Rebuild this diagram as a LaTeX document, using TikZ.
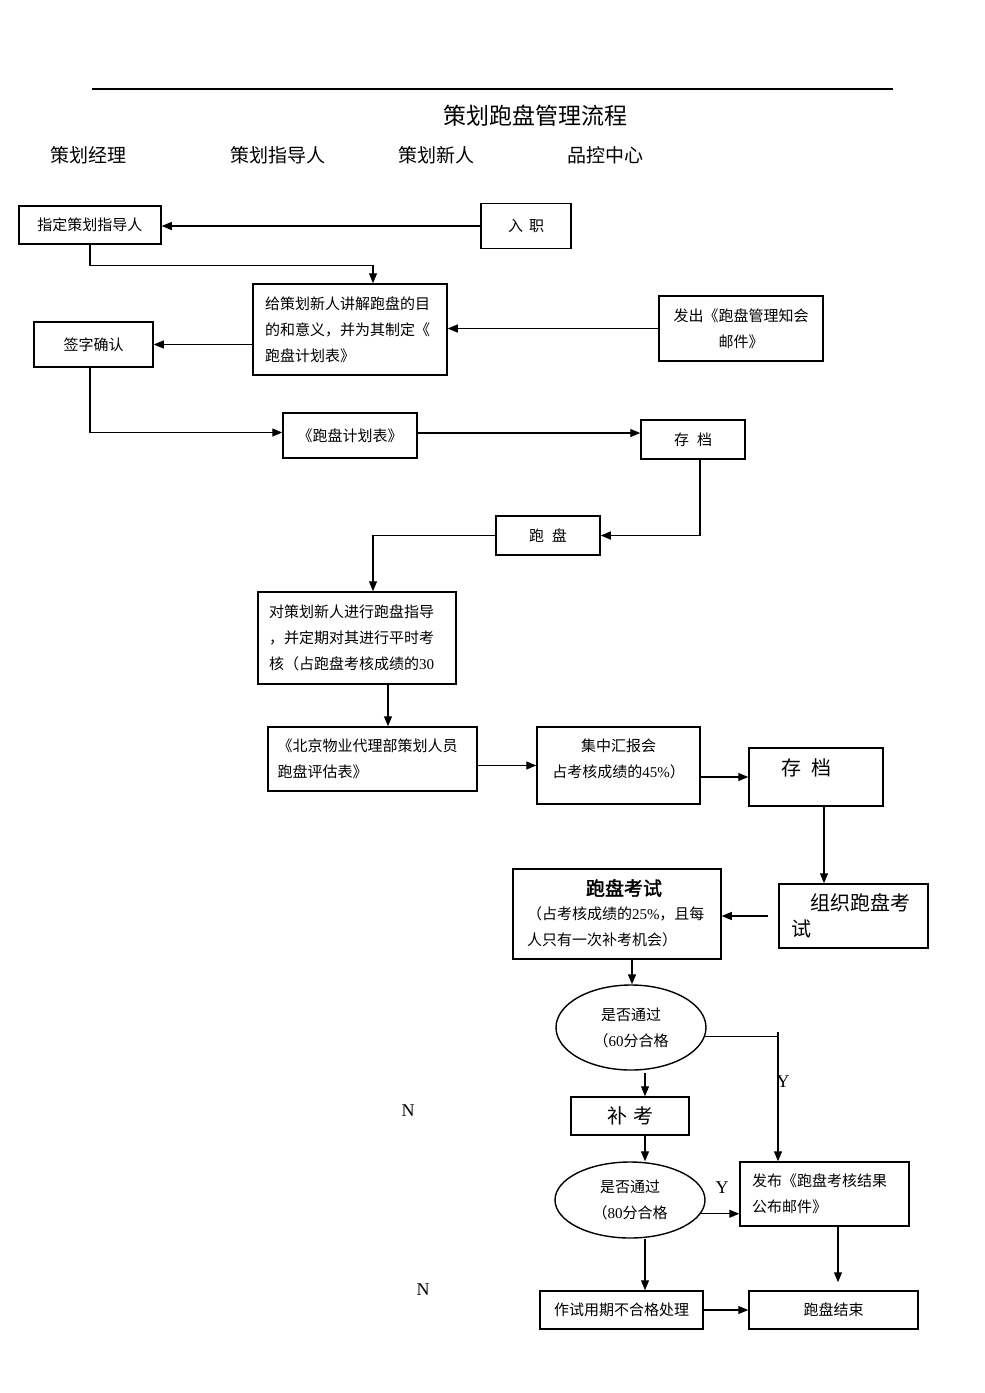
\documentclass[tikz,border=0pt]{standalone}
\usepackage{fontspec}
\setmainfont{Noto Sans CJK SC}
\newfontfamily\lat{Liberation Serif}
\newfontfamily\cjkbold[FakeBold=2]{Noto Sans CJK SC}
\usetikzlibrary{arrows.meta,shapes.geometric}
\begin{document}
\begin{tikzpicture}[x=1pt,y=-1pt,
  box/.style={draw, line width=1.5pt, rectangle, inner sep=0pt},
  body/.style={font=\fontsize{15}{26}\selectfont, inner sep=0pt},
  big/.style={font=\fontsize{20}{26}\selectfont, inner sep=0pt},
  hdr/.style={font=\fontsize{19}{22}\selectfont, inner sep=0pt},
  oval/.style={draw, ellipse, line width=1.4pt, inner sep=0pt, align=center, font=\fontsize{15}{26}\selectfont},
  arr/.style={line width=1.2pt, -{Triangle[length=10pt,width=8pt]}},
  ln/.style={line width=1.2pt},
  lab/.style={font=\lat\fontsize{18}{20}\selectfont, inner sep=0pt}]
\path[use as bounding box] (0,0) rectangle (985,1393);

% header
\draw[line width=1.2pt] (92,89) -- (893,89);
\node[font=\fontsize{23}{26}\selectfont, inner sep=0pt] (title) at (535,116) {策划跑盘管理流程};
\node[hdr] (h1) at (88.5,155) {策划经理};
\node[hdr] (h2) at (277.5,155) {策划指导人};
\node[hdr] (h3) at (436,155) {策划新人};
\node[hdr] (h4) at (605,155) {品控中心};

% boxes
\node[box, body, minimum width=142, minimum height=38] (b1) at (90,225) {指定策划指导人};
\node[box, body, minimum width=90, minimum height=45] (rz) at (526,226) {入\hspace{6pt}职};
\node[box, body, minimum width=194, minimum height=91, text width=170, align=left] (b4) at (350,329.5) {给策划新人讲解跑盘的目\\的和意义，并为其制定《\\跑盘计划表》};
\node[box, body, minimum width=164, minimum height=65, align=center] (fc) at (741,328.5) {发出《跑盘管理知会\\邮件》};
\node[box, body, minimum width=119, minimum height=45] (qz) at (93.5,344.5) {签字确认};
\node[box, body, minimum width=134, minimum height=45] (jh) at (350,435.5) {《跑盘计划表》};
\node[box, body, minimum width=104, minimum height=39] (cd1) at (693,439.5) {存\hspace{8pt}档};
\node[box, body, minimum width=104, minimum height=39] (pp) at (548,535.5) {跑\hspace{8pt}盘};
\node[box, body, minimum width=198, minimum height=92, text width=176, align=left] (d1) at (357,638) {对策划新人进行跑盘指导\\，并定期对其进行平时考\\核（占跑盘考核成绩的{\lat 30}};
\node[box, body, minimum width=209, minimum height=64, text width=190, align=left] (bj) at (372.5,759) {《北京物业代理部策划人员\\跑盘评估表》};
\node[box, minimum width=163, minimum height=77] (hb) at (618.5,765.5) {};
\node[body, align=center] (hbt) at (618.5,759) {集中汇报会\\占考核成绩的{\lat 45\%}）};
\node[box, minimum width=134, minimum height=58] (cd2) at (816,777) {};
\node[big] (cd2t) at (806,768) {存\hspace{10pt}档};
\node[box, minimum width=149, minimum height=64] (zz) at (853.5,916) {};
\node[big, align=left, text width=125] (zzt) at (853.5,916) {\hspace*{19pt}组织跑盘考\\试};
\node[box, minimum width=208, minimum height=90] (ks) at (617,914) {};
\node[font=\cjkbold\fontsize{19}{22}\selectfont, inner sep=0pt] (kst) at (624,888) {跑盘考试};
\node[body, align=left, text width=185] (kss) at (619.5,927) {（占考核成绩的{\lat 25\%}，且每\\人只有一次补考机会）};
\node[oval, minimum width=150, minimum height=85] (e1) at (631,1027.5) {是否通过\\（{\lat 60}分合格};
\node[box, big, minimum width=118, minimum height=38] (bk) at (630,1116) {补\hspace{6pt}考};
\node[oval, minimum width=150, minimum height=76] (e2) at (630,1200) {是否通过\\（{\lat 80}分合格};
\node[box, body, minimum width=169, minimum height=64, text width=145, align=left] (fb) at (824.5,1194) {发布《跑盘考核结果\\公布邮件》};
\node[box, body, minimum width=163, minimum height=38] (zy) at (621.5,1310) {作试用期不合格处理};
\node[box, body, minimum width=169, minimum height=38] (pj) at (833.5,1310) {跑盘结束};

% labels
\node[lab] (n1) at (408,1111) {N};
\node[lab] (n2) at (423,1290) {N};
\node[lab] (y1) at (783,1082) {Y};
\node[lab] (y2) at (722,1188) {Y};

% connectors
\draw[arr] (rz.west) -- (rz.west -| b1.east);
\draw[arr] ([xshift=0pt]b1.south) -- ++(0,21) -| ([xshift=23pt]b4.north);
\draw[arr] (fc.west) -- (fc.west -| b4.east);
\draw[arr] (b4.west |- qz.east) -- (qz.east);
\draw[arr] ([xshift=-3.5pt]qz.south) |- ([yshift=3pt]jh.west);
\draw[arr] ([yshift=2.5pt]jh.east) -- ([yshift=2.5pt]jh.east -| cd1.west);
\draw[arr] ([xshift=7pt]cd1.south) |- (pp.east);
\draw[arr] (pp.west) -| ([xshift=16pt]d1.north);
\draw[arr] ([xshift=31pt]d1.south) -- ([xshift=15.5pt]bj.north);
\draw[arr] (bj.east |- hb.west) -- (hb.west);
\draw[arr] (hb.east |- cd2.west) -- (cd2.west);
\draw[arr] ([xshift=8pt]cd2.south) -- ([xshift=-29.5pt]zz.north);
\draw[arr] ([xshift=-10pt]zz.west) -- (zz.west -| ks.east);
\draw[arr] ([xshift=15pt]ks.south) -- ([xshift=15pt]ks.south |- e1.north);
\coordinate (yj) at (778,1032);
\draw[ln] (e1.-7) -- (e1.-7 -| yj);
\draw[arr] (yj) -- (yj |- fb.north);
\draw[arr] ([xshift=14pt,yshift=-2pt]e1.south) -- ([xshift=15pt]bk.north);
\draw[arr] ([xshift=15pt]bk.south) -- ([xshift=15pt]bk.south |- e2.north);
\draw[arr] (e2.-11) -- (e2.-11 -| fb.west);
\draw[arr] ([xshift=13.5pt]fb.south) -- ([xshift=4.5pt,yshift=8pt]pj.north);
\draw[arr] ([xshift=15pt]e2.south) -- ([xshift=23.5pt]zy.north);
\draw[arr] (zy.east) -- (pj.west);
\end{tikzpicture}
\end{document}
